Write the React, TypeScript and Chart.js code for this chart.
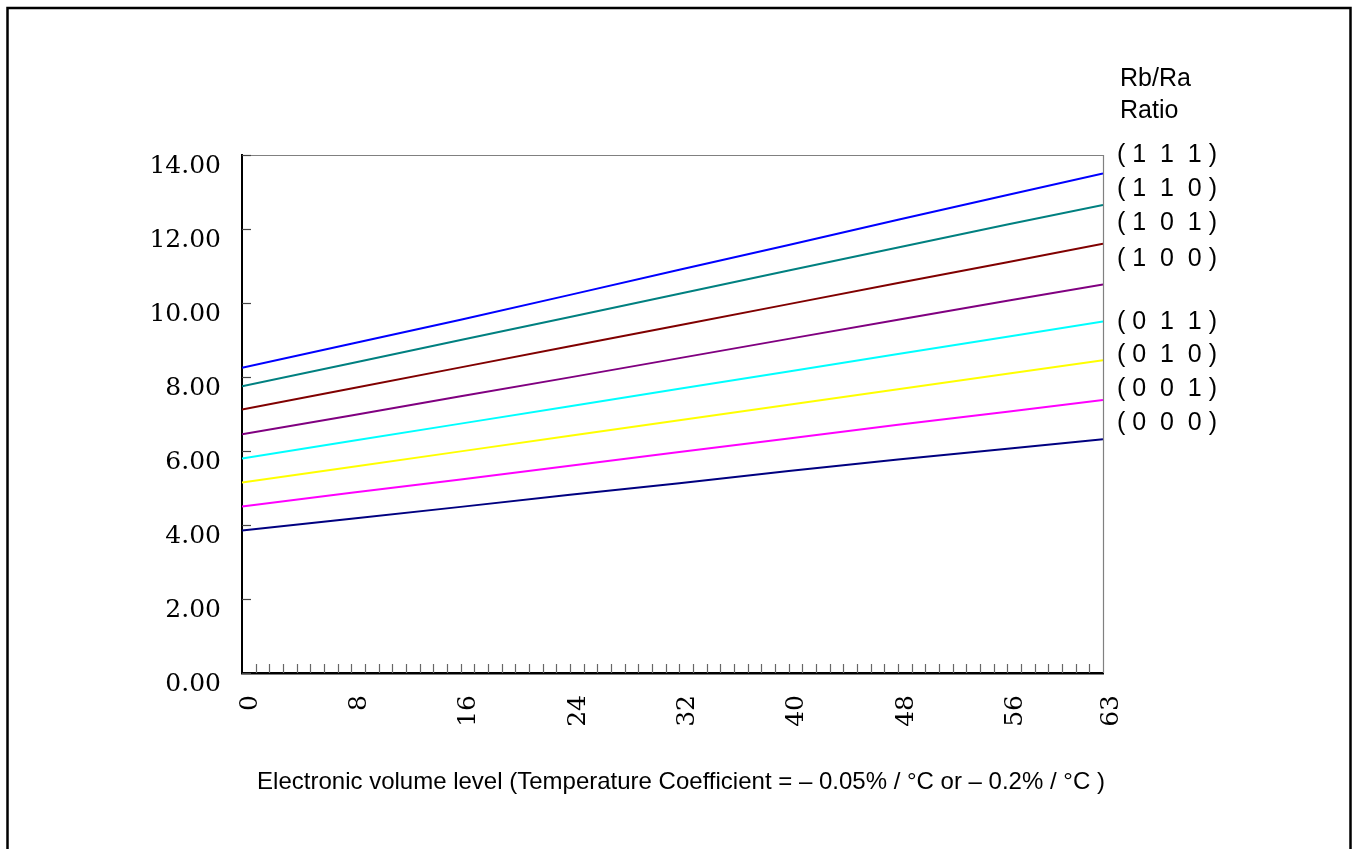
import React, { useEffect, useRef } from "react";
import { Chart, registerables } from "chart.js";

Chart.register(...registerables);

// Electronic volume levels where values were read
const levels = [0, 8, 16, 24, 32, 40, 48, 56, 63];
const xTickValues = [0, 8, 16, 24, 32, 40, 48, 56, 63];

// V0 (V) for each Rb/Ra ratio
const s111 = [8.25, 8.9, 9.55, 10.22, 10.9, 11.57, 12.25, 12.92, 13.5];
const s110 = [7.75, 8.37, 9.0, 9.62, 10.25, 10.88, 11.5, 12.12, 12.65];
const s101 = [7.12, 7.69, 8.26, 8.83, 9.4, 9.97, 10.54, 11.1, 11.6];
const s100 = [6.45, 6.96, 7.48, 7.99, 8.51, 9.03, 9.55, 10.06, 10.5];
const s011 = [5.8, 6.27, 6.74, 7.21, 7.68, 8.15, 8.62, 9.09, 9.5];
const s010 = [5.15, 5.57, 5.99, 6.41, 6.83, 7.25, 7.67, 8.09, 8.45];
const s001 = [4.5, 4.87, 5.23, 5.6, 5.97, 6.34, 6.71, 7.06, 7.38];
const s000 = [3.85, 4.17, 4.49, 4.82, 5.13, 5.46, 5.77, 6.06, 6.32];

const seriesValues = [s111, s110, s101, s100, s011, s010, s001, s000];
const ratioLabels = [
  "( 1  1  1 )",
  "( 1  1  0 )",
  "( 1  0  1 )",
  "( 1  0  0 )",
  "( 0  1  1 )",
  "( 0  1  0 )",
  "( 0  0  1 )",
  "( 0  0  0 )",
];
const seriesColors = [
  "#0000ff",
  "#008080",
  "#800000",
  "#800080",
  "#00ffff",
  "#ffff00",
  "#ff00ff",
  "#000080",
];
const legendTitle = ["Rb/Ra", "Ratio"];
const xTitle =
  "Electronic volume level (Temperature Coefficient = \u2013 0.05% / \u00b0C or \u2013 0.2% / \u00b0C )";

const labelYPositions = [155, 189, 223, 259, 322, 355, 389, 423];

const decorPlugin = {
  id: "decor",
  afterDraw(chart: any) {
    const { ctx, chartArea, scales } = chart;
    const xs = scales.x;
    const ys = scales.y;
    ctx.save();
    // outer frame
    ctx.strokeStyle = "#000";
    ctx.lineWidth = 2.5;
    ctx.strokeRect(7.5, 8, 1343, 900);

    // plot top & right border
    ctx.strokeStyle = "#808080";
    ctx.lineWidth = 1.2;
    ctx.beginPath();
    ctx.moveTo(chartArea.left, chartArea.top + 0.5);
    ctx.lineTo(chartArea.right + 0.5, chartArea.top + 0.5);
    ctx.lineTo(chartArea.right + 0.5, chartArea.bottom);
    ctx.stroke();

    // y inner ticks
    ctx.strokeStyle = "#444";
    ctx.lineWidth = 1.2;
    for (let v = 0; v <= 14; v += 2) {
      const py = Math.round(ys.getPixelForValue(v)) + 0.5;
      ctx.beginPath();
      ctx.moveTo(chartArea.left, py);
      ctx.lineTo(chartArea.left + 9, py);
      ctx.stroke();
    }
    // x inner minor ticks
    ctx.strokeStyle = "#666";
    for (let v = 1; v < 63; v++) {
      const px = Math.round(xs.getPixelForValue(v)) + 0.5;
      ctx.beginPath();
      ctx.moveTo(px, chartArea.bottom);
      ctx.lineTo(px, chartArea.bottom - 9);
      ctx.stroke();
    }

    // right-hand labels
    ctx.fillStyle = "#000";
    ctx.textAlign = "left";
    ctx.textBaseline = "middle";
    ctx.font = '25px "Liberation Sans", Arial, sans-serif';
    ctx.fillText(legendTitle[0], 1120, 79);
    ctx.fillText(legendTitle[1], 1120, 111);
    ratioLabels.forEach((t, i) => {
      ctx.fillText(t, 1117, labelYPositions[i]);
    });

    // x-axis title
    ctx.font = '24px "Liberation Sans", Arial, sans-serif';
    ctx.textAlign = "center";
    ctx.fillText(xTitle, 681, 782, 851);
    ctx.restore();
  },
};

export default function App() {
  const ref = useRef<HTMLCanvasElement | null>(null);
  useEffect(() => {
    if (!ref.current) return;
    const chart = new Chart(ref.current, {
      type: "line",
      data: {
        datasets: seriesValues.map((vals, i) => ({
          label: ratioLabels[i],
          data: vals.map((v, j) => ({ x: levels[j], y: v })),
          borderColor: seriesColors[i],
          backgroundColor: seriesColors[i],
          borderWidth: 2,
          pointRadius: 0,
          tension: 0,
          fill: false,
        })),
      },
      options: {
        responsive: false,
        animation: false,
        events: [],
        layout: { padding: { top: 155, right: 253, bottom: 0, left: 0 } },
        plugins: {
          legend: { display: false },
          tooltip: { enabled: false },
          title: { display: false },
        },
        scales: {
          x: {
            type: "linear",
            min: 0,
            max: 63,
            afterBuildTicks: (s: any) => {
              s.ticks = xTickValues.map((v) => ({ value: v }));
            },
            afterFit: (s: any) => {
              s.height = 176;
            },
            grid: { display: true, drawOnChartArea: false, drawTicks: false },
            border: { display: true, color: "#000", width: 2.5 },
            ticks: {
              autoSkip: false,
              minRotation: 90,
              maxRotation: 90,
              padding: 22,
              labelOffset: 8,
              color: "#000",
              font: { family: '"DejaVu Serif", serif', size: 25 },
              callback: (v: any) => String(v),
            },
          },
          y: {
            min: 0,
            max: 14,
            afterFit: (s: any) => {
              s.width = 242;
            },
            grid: { display: true, drawOnChartArea: false, drawTicks: false },
            border: { display: true, color: "#000", width: 2 },
            ticks: {
              stepSize: 2,
              padding: 21,
              labelOffset: 11,
              color: "#000",
              font: { family: '"DejaVu Serif", serif', size: 25 },
              callback: (v: any) => Number(v).toFixed(2),
            },
          },
        },
      },
      plugins: [decorPlugin],
    });
    return () => chart.destroy();
  }, []);
  return (
    <div style={{ position: "absolute", left: 0, top: 0, width: 1356, height: 849, background: "#fff" }}>
      <canvas ref={ref} width={1356} height={849} style={{ display: "block" }} />
    </div>
  );
}
